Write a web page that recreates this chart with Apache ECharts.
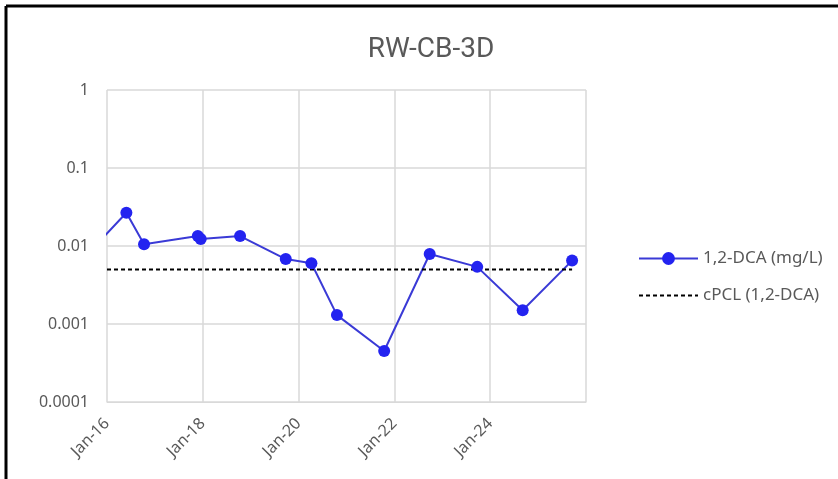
<!DOCTYPE html>
<html>
<head>
<meta charset="utf-8">
<script src="https://cdn.jsdelivr.net/npm/echarts@6/dist/echarts.min.js"></script>
<style>
  html, body { margin: 0; padding: 0; background: #fff; }
  #chart { width: 838px; height: 479px; }
</style>
</head>
<body>
<div id="chart"></div>
<script>
// sample dates and 1,2-DCA results (mg/L)
const sampleDates = [
  "2015-10-15", "2016-05-28", "2016-10-10", "2017-11-24", "2017-12-16",
  "2018-10-12", "2019-09-25", "2020-04-08", "2020-10-20", "2021-10-15",
  "2022-09-27", "2023-09-24", "2024-09-05", "2025-09-17"
];
const dcaValues = [
  0.0105, 0.0267, 0.0105, 0.0134, 0.0123,
  0.0134, 0.0068, 0.006, 0.0013, 0.00045,
  0.0079, 0.0054, 0.0015, 0.0065
];
// cPCL screening level
const cpclDates = ["2016-01-01", "2025-09-17"];
const cpclValues = [0.005, 0.005];

const yTicks = [0.0001, 0.001, 0.01, 0.1, 1];
const xTickYears = [2016, 2018, 2020, 2022, 2024];

function toYear(s) {
  const d = new Date(s + "T00:00:00Z");
  const y = d.getUTCFullYear();
  const start = Date.UTC(y, 0, 1);
  const end = Date.UTC(y + 1, 0, 1);
  return y + (d.getTime() - start) / (end - start);
}

const font = "'Noto Sans', sans-serif";
const grey = "#595959";

const chart = echarts.init(document.getElementById("chart"));
const option = {
  animation: false,
  title: {
    text: "RW-CB-3D",
    left: 426,
    top: 31,
    textAlign: "center",
    textStyle: { fontFamily: "'Liberation Sans Narrow', Roboto, sans-serif", fontSize: 28, fontWeight: "normal", color: grey }
  },
  legend: {
    orient: "vertical",
    left: 633,
    top: 245,
    itemWidth: 59,
    itemHeight: 16,
    itemGap: 20,
    textStyle: { fontFamily: font, fontSize: 17, color: grey },
    data: [
      { name: "1,2-DCA (mg/L)" },
      { name: "cPCL (1,2-DCA)", itemStyle: { opacity: 0 } }
    ]
  },
  graphic: [
    { type: "line", shape: { x1: 6, y1: 6, x2: 838, y2: 6 }, style: { stroke: "#000", lineWidth: 3 } },
    { type: "line", shape: { x1: 6, y1: 6, x2: 6, y2: 479 }, style: { stroke: "#000", lineWidth: 3 } }
  ],
  grid: { left: 107, right: 252, top: 90, bottom: 77 },
  xAxis: {
    type: "value",
    min: 2016,
    max: 2026,
    interval: 2,
    axisLine: { show: true, lineStyle: { color: "#d9d9d9" } },
    axisTick: { show: false },
    splitLine: { show: true, lineStyle: { color: "#d9d9d9", width: 1.5 } },
    axisLabel: {
      rotate: 45,
      margin: 19,
      fontFamily: font,
      fontSize: 16,
      color: grey,
      formatter: function (v) {
        return xTickYears.indexOf(v) >= 0 ? "Jan-" + String(v).slice(2) : "";
      }
    }
  },
  yAxis: {
    type: "log",
    logBase: 10,
    min: 0.0001,
    max: 1,
    axisLine: { show: false },
    axisTick: { show: false },
    splitLine: { show: true, lineStyle: { color: "#d9d9d9", width: 1.5 } },
    axisLabel: {
      margin: 18,
      fontFamily: font,
      fontSize: 16,
      color: grey,
      formatter: function (v) {
        const r = yTicks.find(t => Math.abs(Math.log10(t) - Math.log10(v)) < 1e-6);
        return r !== undefined ? String(r) : "";
      }
    }
  },
  series: [
    {
      name: "1,2-DCA (mg/L)",
      type: "line",
      clip: true,
      symbol: "circle",
      symbolSize: 12,
      lineStyle: { color: "#3a3ad6", width: 2 },
      itemStyle: { color: "#2323f0" },
      data: sampleDates.map((d, i) => [toYear(d), dcaValues[i]])
    },
    {
      name: "cPCL (1,2-DCA)",
      type: "line",
      symbol: "none",
      lineStyle: { color: "#000", width: 2, type: [4, 3] },
      itemStyle: { color: "#000" },
      data: cpclDates.map((d, i) => [toYear(d), cpclValues[i]])
    }
  ]
};
chart.setOption(option);
</script>
</body>
</html>
